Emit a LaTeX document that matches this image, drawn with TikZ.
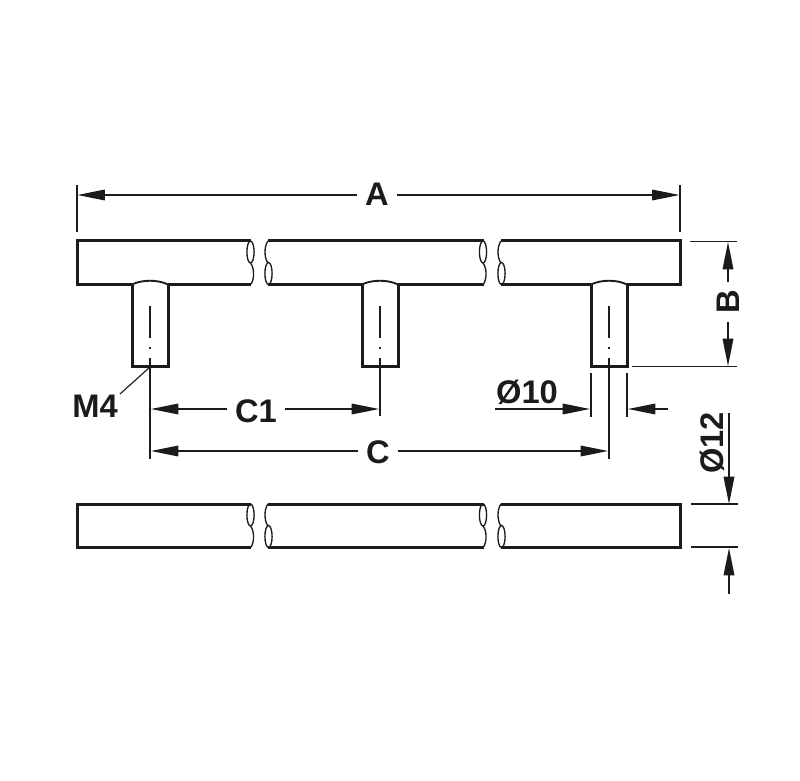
\documentclass[tikz,border=0pt]{standalone}
\usepackage{fontspec}
\setmainfont{Liberation Sans}
\usetikzlibrary{arrows.meta}
\tikzset{
  outline/.style={line width=2.25pt,line cap=butt,line join=miter,color=ink},
  thinline/.style={line width=1pt,color=ink},
  dimline/.style={line width=0.85pt,color=ink},
  dimarrow/.style={dimline,-{Triangle[length=20.5pt,width=8pt,sep=0pt]}},
  label/.style={font=\fontsize{24.5}{24.5}\selectfont\bfseries,text=ink,inner sep=0pt,outer sep=0pt},
  gaplabel/.style={label,inner xsep=6pt,inner ysep=6pt},
}
\definecolor{ink}{HTML}{1C1A1A}
\newcommand{\rodbreaks}{%
  \draw[thinline] (250.5,252) ellipse [x radius=3.6,y radius=11];
  \draw[thinline] (250.5,263) .. controls (254.5,268) and (254.5,279) .. (251,284);
  \draw[thinline] (268,241) .. controls (264,246) and (264,258) .. (268,263);
  \draw[thinline] (268.5,273.5) ellipse [x radius=3.6,y radius=11];
  \draw[thinline] (483,252) ellipse [x radius=3.6,y radius=11];
  \draw[thinline] (483,263) .. controls (487,268) and (487,279) .. (483.5,284);
  \draw[thinline] (501,241) .. controls (497,246) and (497,258) .. (501,263);
  \draw[thinline] (501.5,273.5) ellipse [x radius=3.6,y radius=11];
}
\newcommand{\stem}[1]{%
  \draw[outline] (#1-18,284) -- (#1-18,366) -- (#1+18,366) -- (#1+18,284);
  \draw[thinline,line width=1.4pt] (#1-18,284.5) .. controls (#1-8,279.5) and (#1+8,279.5) .. (#1+18,284.5);
  \draw[thinline,line width=0.8pt] (#1,306) -- (#1,338);
  \draw[thinline,line width=0.8pt] (#1,346.5) -- (#1,349);
}
\begin{document}
\begin{tikzpicture}[x=0.75pt,y=-0.75pt]
\useasboundingbox (0,0) rectangle (800,781);
% top rod
\draw[outline] (251,241) -- (77,241) -- (77,284) -- (132,284);
\draw[outline] (168,284) -- (251,284);
\draw[outline] (268,241) -- (484,241);
\draw[outline] (268,284) -- (362,284);
\draw[outline] (398,284) -- (484,284);
\draw[outline] (501,241) -- (680,241) -- (680,284) -- (627,284);
\draw[outline] (591,284) -- (501,284);
\rodbreaks
\stem{150}
\stem{380}
\stem{609}
% bottom rod
\begin{scope}[shift={(0,263)}]
\draw[outline] (251,241) -- (77,241) -- (77,284) -- (251,284);
\draw[outline] (268,241) -- (484,241);
\draw[outline] (268,284) -- (484,284);
\draw[outline] (501,241) -- (680,241) -- (680,284) -- (501,284);
\rodbreaks
\end{scope}
% coordinates
\coordinate (aL) at (77,185);
\coordinate (aLe) at (77,232);
\coordinate (aR) at (680,185);
\coordinate (aRe) at (680,232);
\coordinate (aLt) at (77.5,195);
\coordinate (aRt) at (679.5,195);
\coordinate (bT1) at (690,241.5);
\coordinate (bT2) at (737,241.5);
\coordinate (bB1) at (632,366.5);
\coordinate (bB2) at (737,366.5);
\coordinate (bTt) at (728,242);
\coordinate (bBt) at (728,366);
\coordinate (c1a) at (150,358);
\coordinate (c1b) at (150,459);
\coordinate (c2a) at (380,358);
\coordinate (c2b) at (380,416);
\coordinate (c3a) at (609,358);
\coordinate (c3b) at (609,459);
\coordinate (c1Lt) at (151,409);
\coordinate (c1Rt) at (379,409);
\coordinate (cLt) at (151,451);
\coordinate (cRt) at (608,451);
\coordinate (d1a) at (591,373);
\coordinate (d1b) at (591,417);
\coordinate (d2a) at (627,373);
\coordinate (d2b) at (627,417);
\coordinate (d1s) at (495,409);
\coordinate (d1t) at (590,409);
\coordinate (d2s) at (668,409);
\coordinate (d2t) at (628,409);
\coordinate (e1a) at (691,504);
\coordinate (e1b) at (738,504);
\coordinate (e2a) at (691,547);
\coordinate (e2b) at (738,547);
\coordinate (e1s) at (729,413);
\coordinate (e1t) at (729,504);
\coordinate (e2s) at (729,594);
\coordinate (e2t) at (729,548);
\coordinate (m4a) at (150,367);
\coordinate (m4b) at (120,394);
% labels
\node[gaplabel] (A) at (377,194) {A};
\node[gaplabel,rotate=90] (B) at (728,302) {B};
\node[gaplabel] (C1) at (256,411) {C1};
\node[gaplabel] (C) at (378,452) {C};
\node[label] (M4) at (95,406) {M4};
\node[label] (D10) at (527,392) {Ø10};
\node[label,rotate=90] (D12) at (712,443) {Ø12};
% extension lines
\draw[dimline] (aL) -- (aLe);
\draw[dimline] (aR) -- (aRe);
\draw[dimline] (bT1) -- (bT2);
\draw[dimline] (bB1) -- (bB2);
\draw[dimline] (c1a) -- (c1b);
\draw[dimline] (c2a) -- (c2b);
\draw[dimline] (c3a) -- (c3b);
\draw[dimline] (d1a) -- (d1b);
\draw[dimline] (d2a) -- (d2b);
\draw[dimline] (e1a) -- (e1b);
\draw[dimline] (e2a) -- (e2b);
\draw[dimline] (m4a) -- (m4b);
% dimension arrows (kept straight: each starts level with its tip, at the edge of its label)
\draw[dimarrow] (A.west |- aLt) -- (aLt);
\draw[dimarrow] (A.east |- aRt) -- (aRt);
\draw[dimarrow] (bTt |- B.east) -- (bTt);
\draw[dimarrow] (bBt |- B.west) -- (bBt);
\draw[dimarrow] (C1.west |- c1Lt) -- (c1Lt);
\draw[dimarrow] (C1.east |- c1Rt) -- (c1Rt);
\draw[dimarrow] (C.west |- cLt) -- (cLt);
\draw[dimarrow] (C.east |- cRt) -- (cRt);
\draw[dimarrow] (d1s) -- (d1t);
\draw[dimarrow] (d2s) -- (d2t);
\draw[dimarrow] (e1s) -- (e1t);
\draw[dimarrow] (e2s) -- (e2t);
\end{tikzpicture}
\end{document}
